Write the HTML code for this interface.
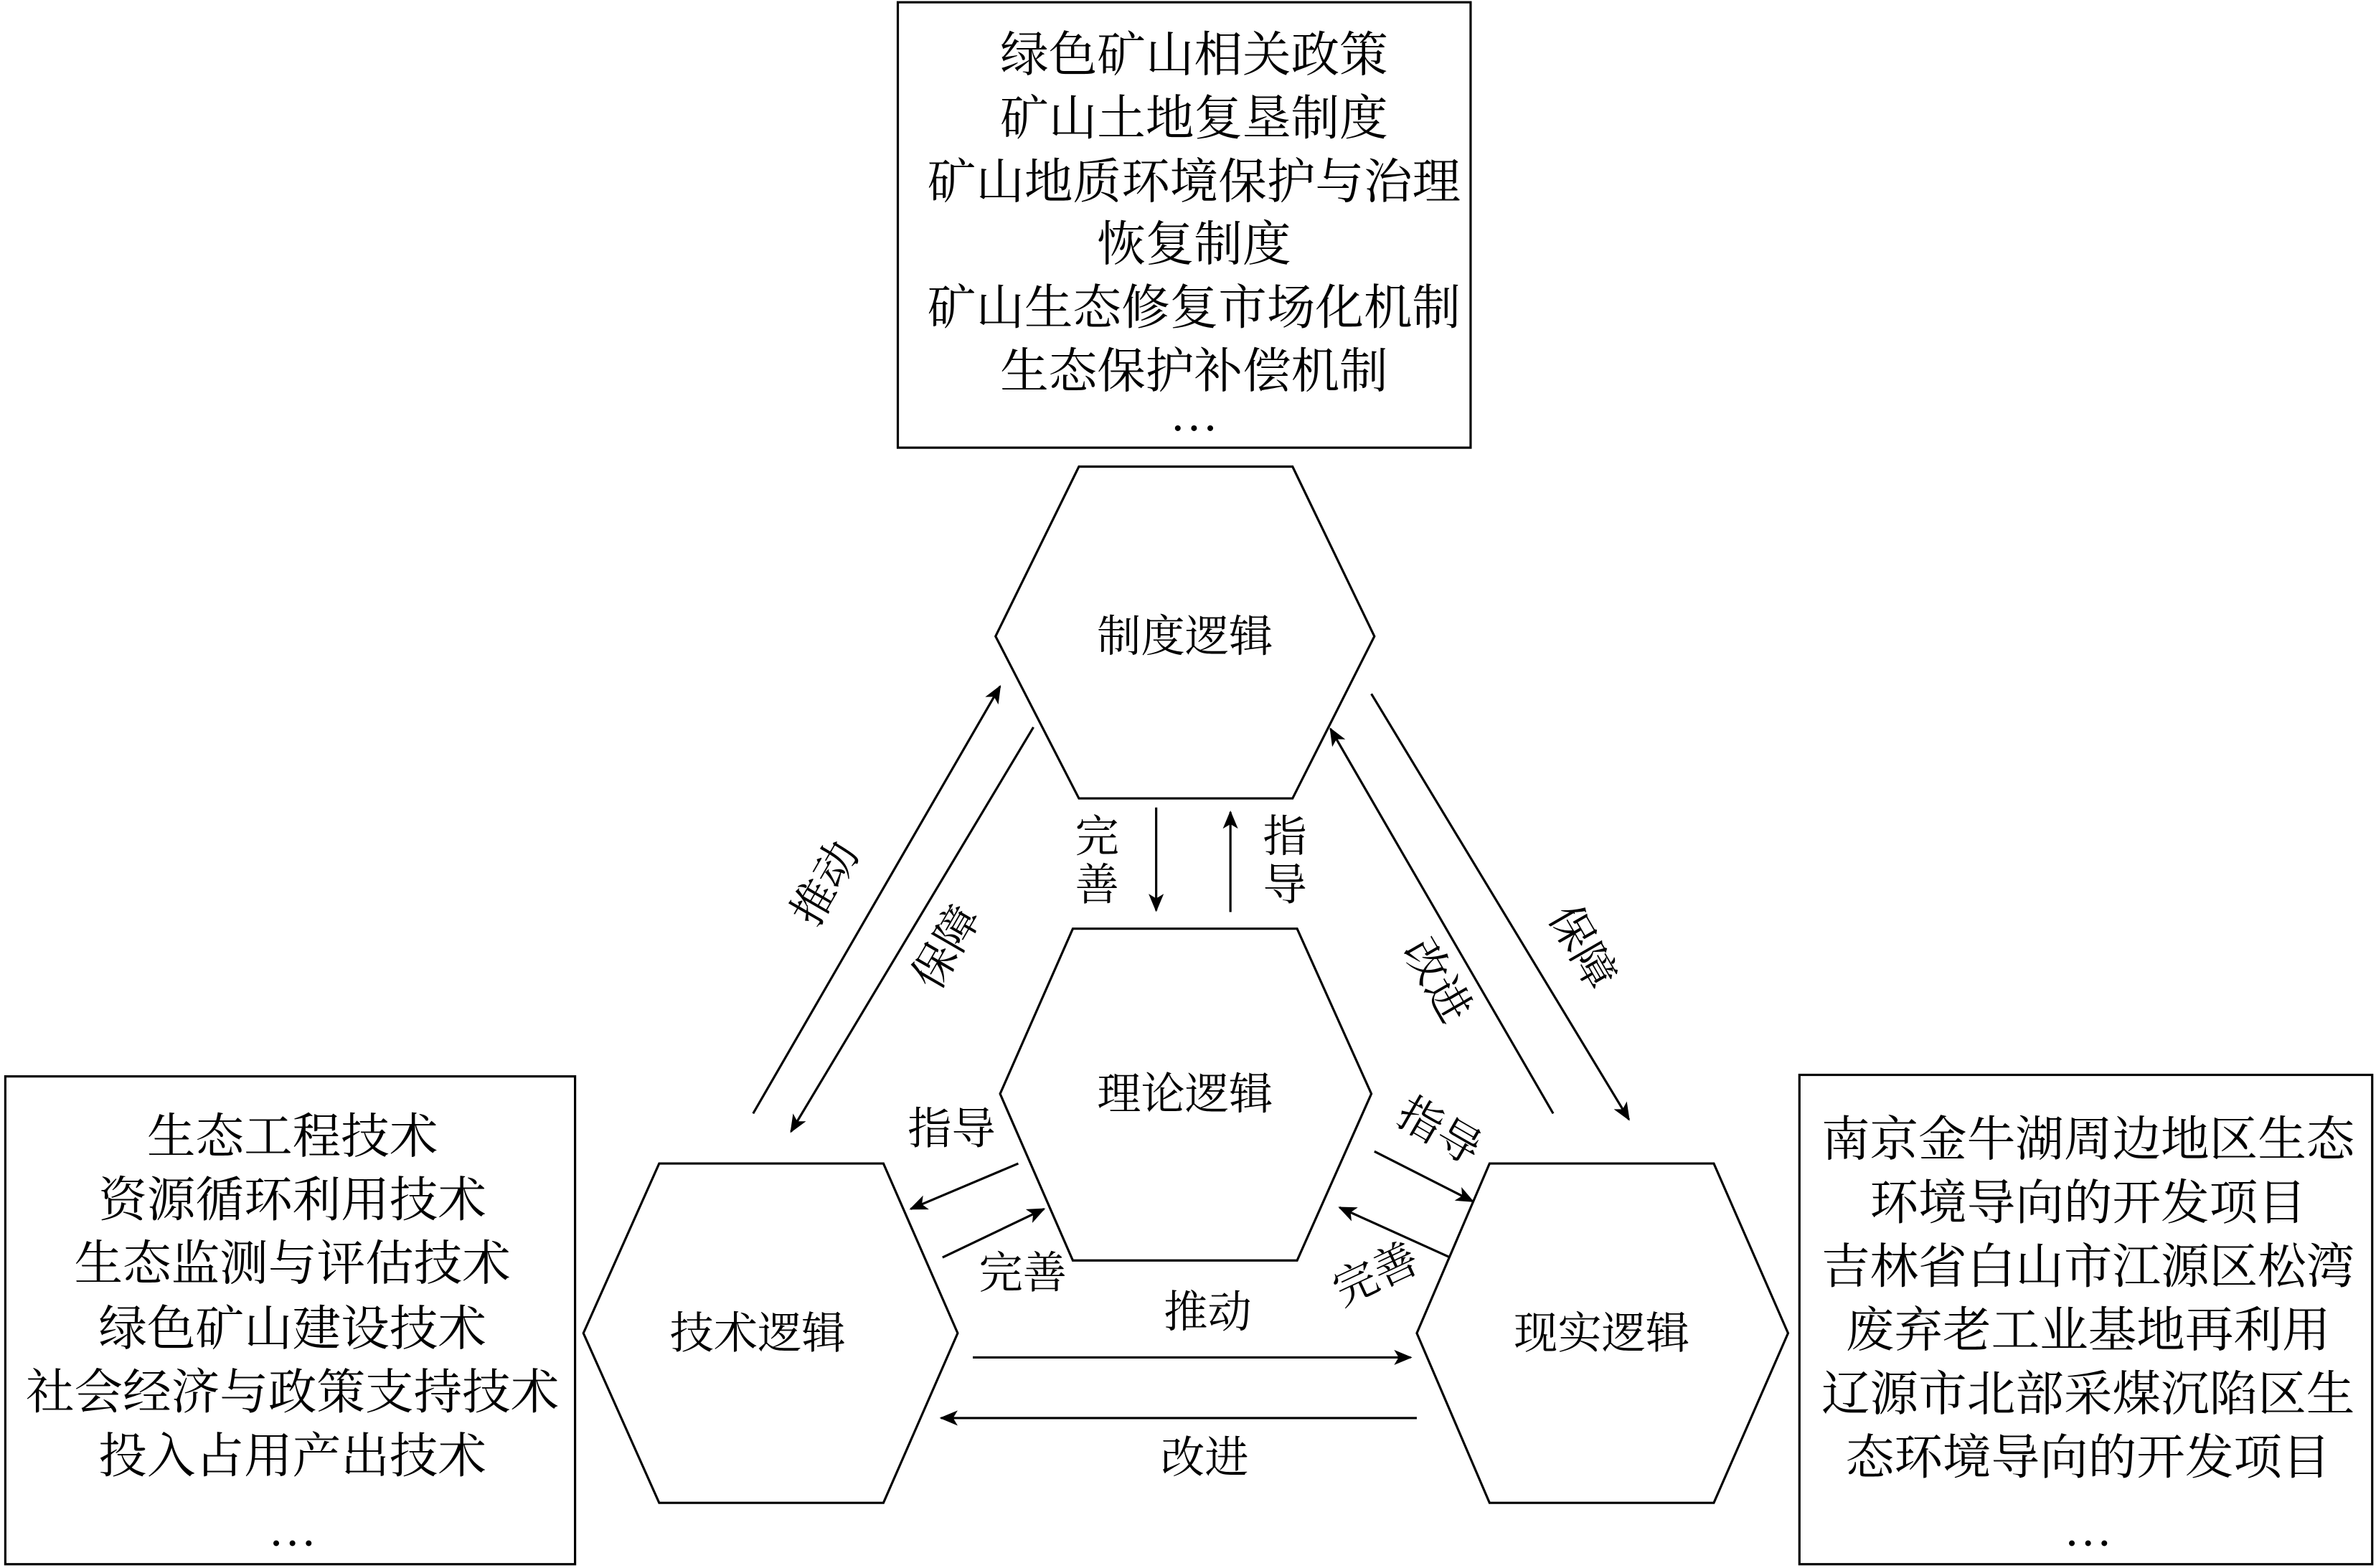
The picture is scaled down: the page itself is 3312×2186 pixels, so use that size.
<!DOCTYPE html>
<html><head><meta charset="utf-8"><style>
html,body{margin:0;padding:0;background:#fff;}
svg{display:block;}
text{font-family:"Liberation Serif","Noto Serif CJK SC","Noto Sans CJK SC",serif;fill:#000;}
</style></head><body>
<svg width="3312" height="2186" viewBox="0 0 1568 1035" preserveAspectRatio="none" xmlns="http://www.w3.org/2000/svg">
<defs><marker id="a" markerWidth="12" markerHeight="10" refX="11" refY="5" orient="auto" markerUnits="userSpaceOnUse"><path d="M0,0 L12,5 L0,10 L3,5 Z" fill="#000"/></marker></defs>
<g fill="none" stroke="#000" stroke-width="1.5">
<rect x="592.5" y="1.5" width="378" height="294"/>
<rect x="3.5" y="710.5" width="376" height="322"/>
<rect x="1187.5" y="709.5" width="378" height="323"/>
<polygon points="657,420 712,308 853,308 907,420 853,527 712,527"/>
<polygon points="660,722 708,613 856,613 905,722 856,832 708,832"/>
<polygon points="385,880 435,768 583,768 632,880 583,992 435,992"/>
<polygon points="935,880 983,768 1131,768 1180,880 1131,992 983,992"/>
</g>
<g stroke="#000" stroke-width="1.5" marker-end="url(#a)">
<line x1="497" y1="735" x2="660" y2="453"/>
<line x1="682" y1="480" x2="522" y2="747"/>
<line x1="763" y1="533" x2="763" y2="601"/>
<line x1="812" y1="602" x2="812" y2="536"/>
<line x1="1025" y1="735" x2="878" y2="481"/>
<line x1="905" y1="458" x2="1075" y2="739"/>
<line x1="672" y1="768" x2="601" y2="798"/>
<line x1="622" y1="830" x2="689" y2="798"/>
<line x1="907" y1="760" x2="972" y2="793"/>
<line x1="957" y1="830" x2="884" y2="797"/>
<line x1="642" y1="896" x2="931" y2="896"/>
<line x1="935" y1="936" x2="621" y2="936"/>
</g>
<g font-size="32" text-anchor="middle">
<text x="788" y="47">绿色矿山相关政策</text>
<text x="788" y="89">矿山土地复垦制度</text>
<text x="788" y="131">矿山地质环境保护与治理</text>
<text x="788" y="172">恢复制度</text>
<text x="788" y="214">矿山生态修复市场化机制</text>
<text x="788" y="256">生态保护补偿机制</text>
<text x="788" y="284">…</text>
<text x="193" y="761">生态工程技术</text>
<text x="193" y="803">资源循环利用技术</text>
<text x="193" y="845">生态监测与评估技术</text>
<text x="193" y="888">绿色矿山建设技术</text>
<text x="193" y="930">社会经济与政策支持技术</text>
<text x="193" y="972">投入占用产出技术</text>
<text x="193" y="1020">…</text>
<text x="1378" y="763">南京金牛湖周边地区生态</text>
<text x="1378" y="805">环境导向的开发项目</text>
<text x="1378" y="847">吉林省白山市江源区松湾</text>
<text x="1378" y="889">废弃老工业基地再利用</text>
<text x="1378" y="931">辽源市北部采煤沉陷区生</text>
<text x="1378" y="973">态环境导向的开发项目</text>
<text x="1378" y="1020">…</text>
</g>
<g font-size="29" text-anchor="middle">
<text x="782" y="430">制度逻辑</text>
<text x="782" y="732">理论逻辑</text>
<text x="500" y="890">技术逻辑</text>
<text x="1057" y="890">现实逻辑</text>
<text x="724" y="562">完</text><text x="724" y="594">善</text>
<text x="848" y="562">指</text><text x="848" y="594">导</text>
<text x="628" y="755">指导</text>
<text x="675" y="850">完善</text>
<text x="797" y="876">推动</text>
<text x="795" y="972">改进</text>
<text transform="translate(553,588) rotate(-60)">推动</text>
<text transform="translate(633,630) rotate(-60)">保障</text>
<text transform="translate(940,652) rotate(60)">改进</text>
<text transform="translate(1036,630) rotate(60)">保障</text>
<text transform="translate(945,755) rotate(30)">指导</text>
<text transform="translate(912,850) rotate(-25)">完善</text>
</g>
</svg>
</body></html>
